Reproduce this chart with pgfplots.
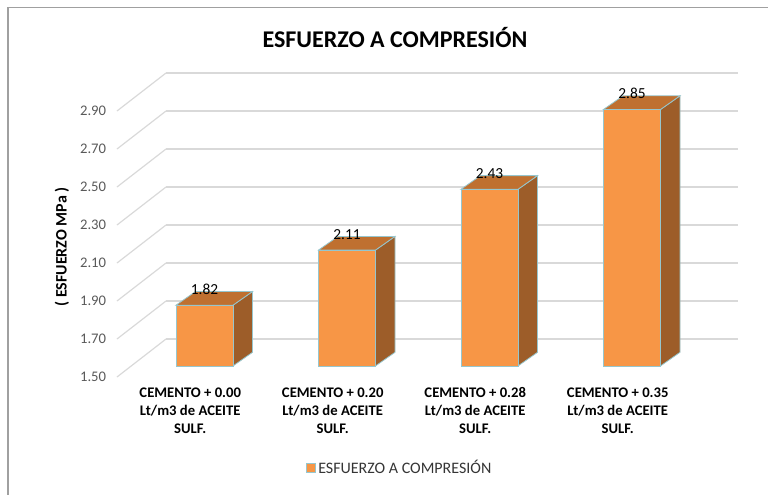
\documentclass[border=0pt]{standalone}
\usepackage{pgfplots}
\pgfplotsset{compat=1.18}
\usepackage{pgfplotstable}
\usepackage{fontspec}
\setmainfont{Carlito}

\definecolor{barfront}{RGB}{247,150,70}
\definecolor{bartop}{RGB}{191,112,48}
\definecolor{barside}{RGB}{157,93,41}
\definecolor{edgec}{RGB}{150,198,206}
\definecolor{gridc}{RGB}{217,217,217}
\definecolor{tickc}{RGB}{89,89,89}
\definecolor{framec}{RGB}{160,160,160}

\pgfplotstableread{
x v
0 1.82
1 2.11
2 2.43
3 2.85
}\data

\newcommand\cat[1]{\begin{tabular}{@{}c@{}}CEMENTO + #1\\Lt/m3 de ACEITE\\SULF.\end{tabular}}

\begin{document}
\begin{tikzpicture}[x=1pt,y=1pt]
\useasboundingbox (0,0) rectangle (576,370.5);
% outer frame (right and bottom edges are cut off in the reference)
\draw[framec, line width=1.1pt] (6,-5) -- (6,365) -- (590,365);
% title
\node[font=\fontsize{18}{20}\selectfont\bfseries] at (296.25,342) {ESFUERZO A COMPRESIÓN};
% y label
\node[font=\fontsize{12}{14}\selectfont\bfseries, rotate=90] at (46.5,185.25) {( ESFUERZO MPa )};
\begin{axis}[
  at={(87.75pt,87.75pt)}, anchor=south west,
  scale only axis, width=465.75pt, height=228pt,
  xmin=-0.614, xmax=3.744, ymin=1.5, ymax=3.1,
  clip=false,
  axis line style={draw=none},
  major tick length=0pt,
  tick style={draw=none},
  ytick={1.5,1.7,1.9,2.1,2.3,2.5,2.7,2.9},
  yticklabel style={anchor=east, inner sep=0pt, xshift=-8pt, text=tickc,
    font=\fontsize{11}{13}\selectfont,
    /pgf/number format/.cd, fixed, precision=2, fixed zerofill, assume math mode=true},
  xtick={-0.1,0.9,1.9,2.9},
  xticklabels={\cat{0.00},\cat{0.20},\cat{0.28},\cat{0.35}},
  xticklabel style={anchor=north, inner sep=0pt, yshift=-6pt,
    font=\fontsize{11}{13.5}\selectfont\bfseries},
  legend style={draw=none, fill=none, at={(0.4557,-0.2993)}, anchor=center,
    font=\fontsize{12}{14}\selectfont, text=tickc!60!black},
  legend image code/.code={\draw[#1] (0pt,-3.6pt) rectangle (6.8pt,3.6pt);},
]
% back wall grid lines and left-wall diagonals
\pgfplotsinvokeforeach{1.5,1.7,1.9,2.1,2.3,2.5,2.7,2.9}{
  \draw[gridc, line width=0.9pt] (axis cs:-0.270,#1+0.2) -- (axis cs:3.744,#1+0.2);
  \draw[gridc, line width=0.9pt] (axis cs:-0.614,#1) -- (axis cs:-0.270,#1+0.2);
}
% 3D bars: front, side and top faces built from the values
\foreach \i/\v in {0/1.82,1/2.11,2/2.43,3/2.85}{
  \pgfmathsetmacro\xl{\i-0.2}
  \pgfmathsetmacro\xr{\i+0.2}
  \pgfmathsetmacro\xlb{\i-0.2+0.137}
  \pgfmathsetmacro\xrb{\i+0.2+0.137}
  \pgfmathsetmacro\yt{\v+0.058}
  \pgfmathsetmacro\ytb{\v+0.058+0.072}
  \pgfmathsetmacro\ybb{1.558+0.072}
  \edef\temp{%
    \noexpand\addplot[fill=barside, draw=edgec, line width=0.6pt, forget plot]
      coordinates {(\xr,1.558) (\xrb,\ybb) (\xrb,\ytb) (\xr,\yt)} -- cycle;
    \noexpand\addplot[fill=bartop, draw=edgec, line width=0.6pt, forget plot]
      coordinates {(\xl,\yt) (\xr,\yt) (\xrb,\ytb) (\xlb,\ytb)} -- cycle;
    \noexpand\addplot[fill=barfront, draw=edgec, line width=0.6pt, forget plot]
      coordinates {(\xl,1.558) (\xr,1.558) (\xr,\yt) (\xl,\yt)} -- cycle;
  }\temp
}
% data labels
\addplot[draw=none, mark=none, forget plot,
  nodes near coords, point meta=explicit symbolic,
  nodes near coords style={anchor=center, text=black, font=\fontsize{11.5}{13}\selectfont}]
  table[x=x, y expr=\thisrow{v}+0.142, meta=v] {\data};
\addlegendimage{fill=barfront, draw=edgec, line width=0.5pt}
\addlegendentry{ESFUERZO A COMPRESIÓN}
\end{axis}
\end{tikzpicture}
\end{document}
